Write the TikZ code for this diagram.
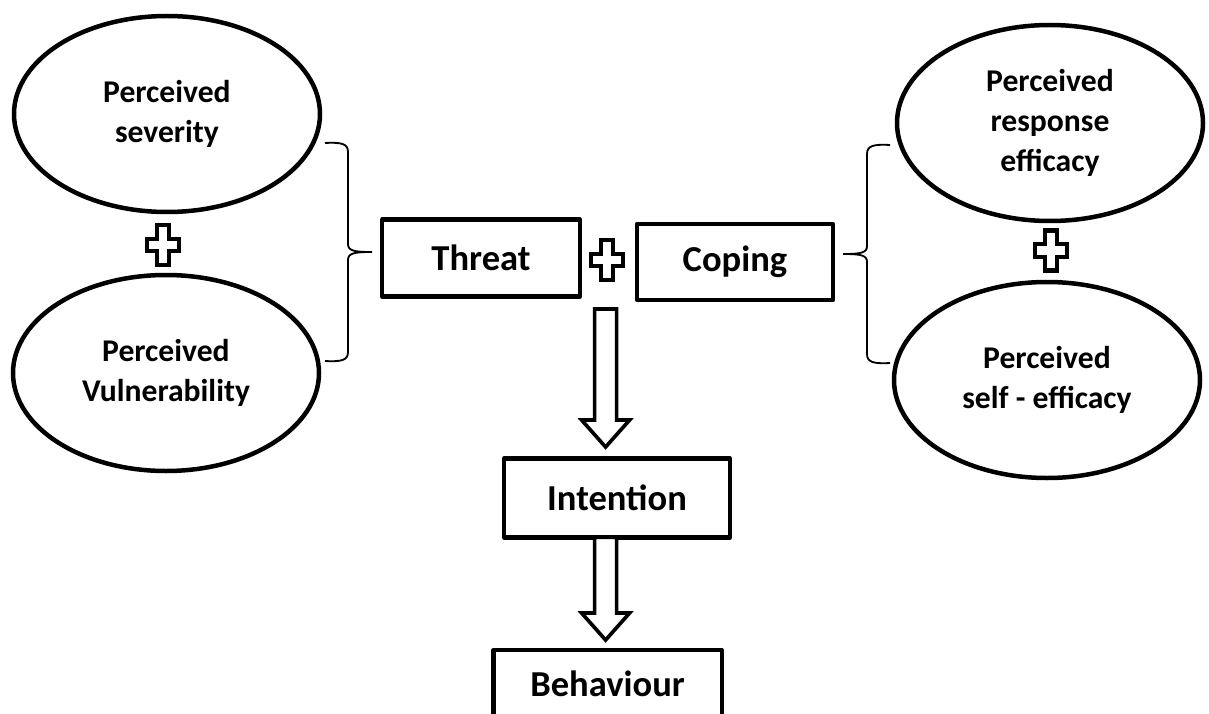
\documentclass[tikz,border=0pt]{standalone}
\usepackage{fontspec}
\setmainfont{Carlito}
\usetikzlibrary{shapes.geometric,calc}

\tikzset{
  oval/.style={ellipse, draw, line width=3.2pt, minimum width=7.65cm, minimum height=4.9cm,
    inner sep=0pt, align=center, font=\fontsize{22.5}{28.5}\selectfont\bfseries},
  box/.style={rectangle, draw, line width=3pt, line join=round, inner sep=0pt,
    font=\fontsize{26}{30}\selectfont\bfseries},
  bracket/.style={line width=1.3pt},
  blockarrow/.style={draw, line width=2.6pt, fill=white},
  pics/crossmark/.style={code={
    \draw[line width=2.9pt, fill=white] (-0.16,0.5) -- (0.16,0.5) -- (0.16,0.16) -- (0.4,0.16)
      -- (0.4,-0.16) -- (0.16,-0.16) -- (0.16,-0.5) -- (-0.16,-0.5) -- (-0.16,-0.16)
      -- (-0.4,-0.16) -- (-0.4,0.16) -- (-0.16,0.16) -- cycle;
  }},
  pics/rbrace/.style={code={
    \draw[bracket] (-1.175,2.725) .. controls (-0.75,2.75) and (-0.6,2.7) .. (-0.6,2.5)
      -- (-0.6,0.2) .. controls (-0.6,0.03) and (-0.45,0) .. (0,0)
      .. controls (-0.45,0) and (-0.6,-0.03) .. (-0.6,-0.2)
      -- (-0.6,-2.5) .. controls (-0.6,-2.7) and (-0.75,-2.75) .. (-1.175,-2.725);
  }}
}

% downward block arrow from #1 to tip #2
\newcommand{\blockarrowdown}[2]{%
  \draw[blockarrow] let \p1=(#1), \p2=(#2) in
    (\x1-0.275cm,\y1) -- (\x1-0.275cm,\y2+0.675cm) -- (\x1-0.6cm,\y2+0.675cm) -- (\x1,\y2)
    -- (\x1+0.6cm,\y2+0.675cm) -- (\x1+0.275cm,\y2+0.675cm) -- (\x1+0.275cm,\y1) -- cycle;}

\begin{document}
\begin{tikzpicture}
  \useasboundingbox (0,0) rectangle (30.225,17.825);
  \clip (0,0) rectangle (30.225,17.825);

  % threat appraisal
  \node[oval] (sev) at (4.175,14.975) {Perceived\\severity};
  \node[oval] (vul) at (4.15,8.5) {Perceived\\Vulnerability};
  \pic at (4.075,11.7) {crossmark};

  % coping appraisal
  \node[oval] (resp) at (26.25,14.75) {Perceived\\response\\efficacy};
  \node[oval] (self) at (26.175,8.325) {Perceived\\self - efficacy};
  \pic at (26.275,11.5625) {crossmark};

  \pic at (9.3,11.525) {rbrace};
  \pic[xscale=-1] at (21.075,11.475) {rbrace};

  % centre column
  \node[box, minimum width=4.95cm, minimum height=1.925cm] (threat) at (12.025,11.375) {Threat};
  \node[box, minimum width=4.9cm, minimum height=1.9cm] (coping) at (18.375,11.275) {Coping};
  \pic at (15.175,11.325) {crossmark};

  \node[box, minimum width=5.65cm, minimum height=1.975cm] (intention) at (15.425,5.375) {Intention};
  \node[box, minimum width=5.7cm, minimum height=1.675cm] (behaviour) at (15.19,0.7375) {Behaviour};

  \coordinate (a1top) at (15.14,10.1);
  \coordinate (a1tip) at (15.14,6.65);
  \coordinate (a2top) at (15.14,4.39);
  \coordinate (a2tip) at (15.14,1.825);
  \blockarrowdown{a1top}{a1tip}
  \blockarrowdown{a2top}{a2tip}
\end{tikzpicture}
\end{document}
